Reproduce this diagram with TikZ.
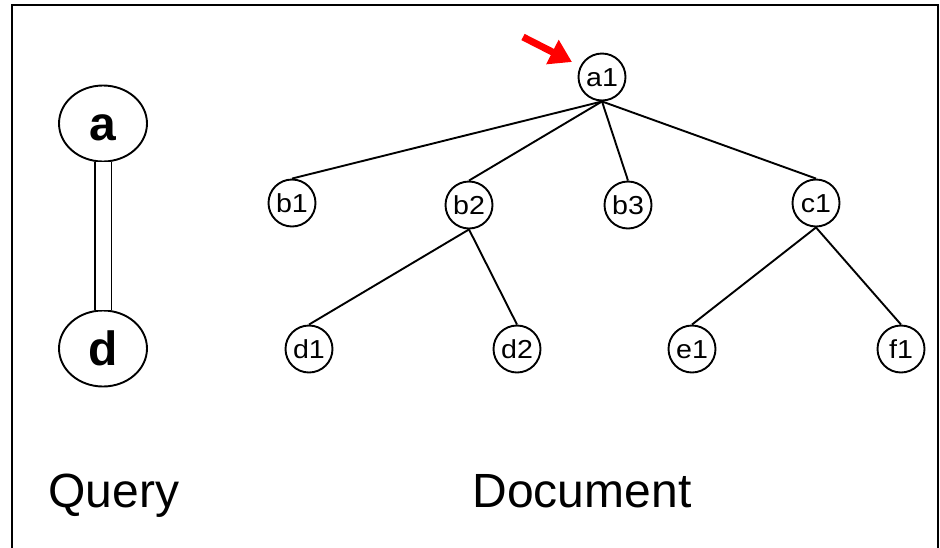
\documentclass[tikz,border=0pt]{standalone}
\usepackage{fontspec}
\setmainfont{Liberation Sans}
\newfontfamily\nodefont[FakeStretch=1.1]{Liberation Sans}
\usetikzlibrary{shapes.geometric,arrows.meta}
\begin{document}
\begin{tikzpicture}[x=1pt,y=-1pt,
  treenode/.style={circle,draw,line width=1.9pt,minimum size=47pt,inner sep=0pt,text height=18.6pt,text depth=0pt,font=\nodefont\fontsize{26}{29}\selectfont},
  qnode/.style={ellipse,draw,line width=1.9pt,minimum width=88pt,minimum height=76pt,inner sep=0pt,text height=34.4pt,text depth=0pt,font=\fontsize{48}{52}\selectfont\bfseries},
  edge/.style={line width=1.9pt},
  caption/.style={anchor=base,font=\fontsize{48}{52}\selectfont}]
\useasboundingbox (0,0) rectangle (940,547);
\draw[line width=2.4pt] (12,5) rectangle (938,560);
% query
\node[qnode] (a) at (103,123.5) {a};
\node[qnode] (d) at (103,348.5) {d};
\draw[line width=1.9pt,double,double distance=15pt] (a) -- (d);
% document tree
\node[treenode] (a1) at (602,77) {a1};
\node[treenode] (b1) at (292,203) {b1};
\node[treenode] (b2) at (469,205) {b2};
\node[treenode] (b3) at (628,205) {b3};
\node[treenode] (c1) at (816,203) {c1};
\node[treenode] (d1) at (309,349) {d1};
\node[treenode] (d2) at (517,349) {d2};
\node[treenode] (e1) at (692,349) {e1};
\node[treenode] (f1) at (901,349) {f1};
\foreach \c in {b1,b2,b3,c1} \draw[edge] (a1.south) -- (\c.north);
\foreach \c in {d1,d2} \draw[edge] (b2.south) -- (\c.north);
\foreach \c in {e1,f1} \draw[edge] (c1.south) -- (\c.north);
% red pointer
\coordinate (ptail) at (523,37);
\coordinate (ptip) at (572,62);
\draw[red,line width=7pt,-{Triangle[length=22pt,width=26pt]}] (ptail) -- (ptip);
% captions
\node[caption] (q) at (114,507) {Query};
\node[caption] (doc) at (582,507) {Document};
\end{tikzpicture}
\end{document}
